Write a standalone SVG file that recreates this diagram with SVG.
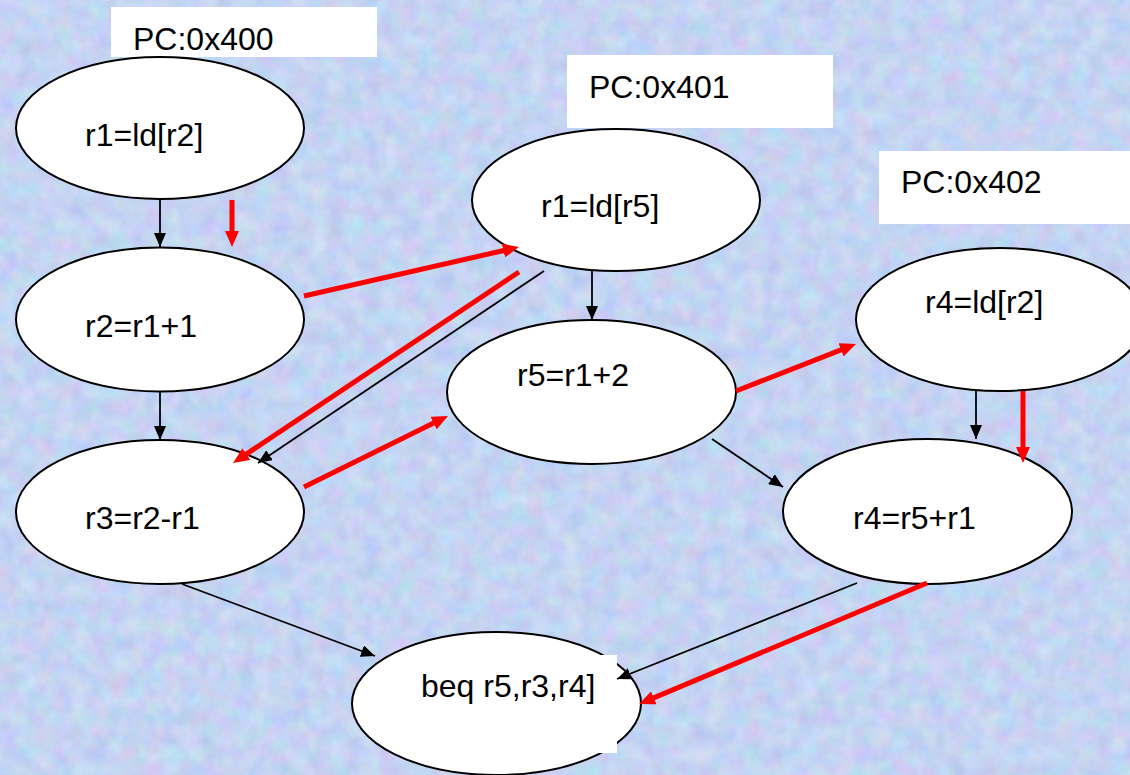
<svg xmlns="http://www.w3.org/2000/svg" width="1130" height="775" viewBox="0 0 1130 775">
  <style>
    .node ellipse { fill: #ffffff; stroke: #000000; stroke-width: 2; }
    .lbl { font-family: "Liberation Sans", Arial, sans-serif; font-size: 32px; fill: #000000; }
    .box { fill: #ffffff; stroke: none; }
    .dep { stroke: #000000; stroke-width: 1.8; fill: none; marker-end: url(#arrowBlack); }
    .flow { stroke: #ff0000; stroke-width: 5; fill: none; marker-end: url(#arrowRed); }
  </style>
  <defs>
    <filter id="speckle" x="0" y="0" width="100%" height="100%" color-interpolation-filters="sRGB">
      <feTurbulence type="fractalNoise" baseFrequency="0.055" numOctaves="3" seed="7" result="noise"/>
      <feColorMatrix in="noise" type="matrix"
        values="0.20 0 0 0 0.67
                0 0.16 0 0 0.75
                0 0 0.10 0 0.90
                0 0 0 0 1"/>
    </filter>
    <marker id="arrowBlack" viewBox="0 0 14 12" refX="14" refY="6" markerWidth="14" markerHeight="12" markerUnits="userSpaceOnUse" orient="auto">
      <path d="M0,0 L14,6 L0,12 z" fill="#000000"/>
    </marker>
    <marker id="arrowRed" viewBox="0 0 16 14" refX="4" refY="7" markerWidth="16" markerHeight="14" markerUnits="userSpaceOnUse" orient="auto">
      <path d="M0,0 L16,7 L0,14 z" fill="#ff0000"/>
    </marker>
  </defs>

  <!-- textured backdrop -->
  <rect x="0" y="0" width="1130" height="775" fill="#c4d4f2"/>
  <rect x="0" y="0" width="1130" height="775" filter="url(#speckle)"/>

  <!-- program counter labels -->
  <g id="pc400">
    <rect class="box" x="111" y="7" width="266" height="50"/>
    <text class="lbl" x="133" y="50">PC:0x400</text>
  </g>
  <g id="pc401">
    <rect class="box" x="567" y="55" width="266" height="73"/>
    <text class="lbl" x="589" y="98">PC:0x401</text>
  </g>
  <g id="pc402">
    <rect class="box" x="879" y="151" width="260" height="73"/>
    <text class="lbl" x="901" y="193">PC:0x402</text>
  </g>

  <!-- instruction nodes -->
  <g id="n_r1_ld_r2" class="node">
    <ellipse cx="160" cy="128" rx="144" ry="71"/>
    <text class="lbl" x="85" y="146">r1=ld[r2]</text>
  </g>
  <g id="n_r2_add" class="node">
    <ellipse cx="160" cy="319.5" rx="144" ry="72"/>
    <text class="lbl" x="85" y="337">r2=r1+1</text>
  </g>
  <g id="n_r3_sub" class="node">
    <ellipse cx="160" cy="512" rx="144" ry="72"/>
    <text class="lbl" x="85" y="529">r3=r2-r1</text>
  </g>
  <g id="n_r1_ld_r5" class="node">
    <ellipse cx="616" cy="200" rx="144" ry="71"/>
    <text class="lbl" x="541" y="217">r1=ld[r5]</text>
  </g>
  <g id="n_r5_add" class="node">
    <ellipse cx="591.5" cy="392" rx="144.5" ry="72"/>
    <text class="lbl" x="517" y="386">r5=r1+2</text>
  </g>
  <g id="n_r4_ld_r2" class="node">
    <ellipse cx="1000" cy="319.5" rx="144" ry="71.5"/>
    <text class="lbl" x="925" y="313">r4=ld[r2]</text>
  </g>
  <g id="n_r4_add" class="node">
    <ellipse cx="927.5" cy="511.5" rx="144.5" ry="72.5"/>
    <text class="lbl" x="853" y="529">r4=r5+r1</text>
  </g>
  <g id="n_beq" class="node">
    <ellipse cx="496.5" cy="703.5" rx="144.5" ry="71.5"/>
    <rect class="box" x="560" y="655" width="57" height="98"/>
    <text class="lbl" x="421" y="697">beq r5,r3,r4]</text>
  </g>

  <!-- dependence edges and issue order -->
  <g id="connectors">
    <line class="dep" x1="160" y1="199" x2="160" y2="247"/>
    <line class="dep" x1="160" y1="392" x2="160" y2="440"/>
    <line class="dep" x1="592" y1="271" x2="592" y2="320"/>
    <line class="dep" x1="544" y1="271" x2="258" y2="463"/>
    <line class="dep" x1="712" y1="439" x2="783" y2="487"/>
    <line class="dep" x1="976" y1="391" x2="976" y2="439"/>
    <line class="dep" x1="182" y1="584" x2="375" y2="656"/>
    <line class="dep" x1="857" y1="583" x2="617" y2="679"/>

    <line class="flow" x1="232" y1="200" x2="232" y2="235"/>
    <line class="flow" x1="304" y1="296" x2="507.3" y2="249.7"/>
    <line class="flow" x1="519" y1="272" x2="243" y2="456.3"/>
    <line class="flow" x1="304" y1="487" x2="437.2" y2="421.3"/>
    <line class="flow" x1="736" y1="391" x2="844.8" y2="348.4"/>
    <line class="flow" x1="1023" y1="391" x2="1023" y2="451"/>
    <line class="flow" x1="927" y1="583" x2="650.1" y2="699.4"/>
  </g>
</svg>
